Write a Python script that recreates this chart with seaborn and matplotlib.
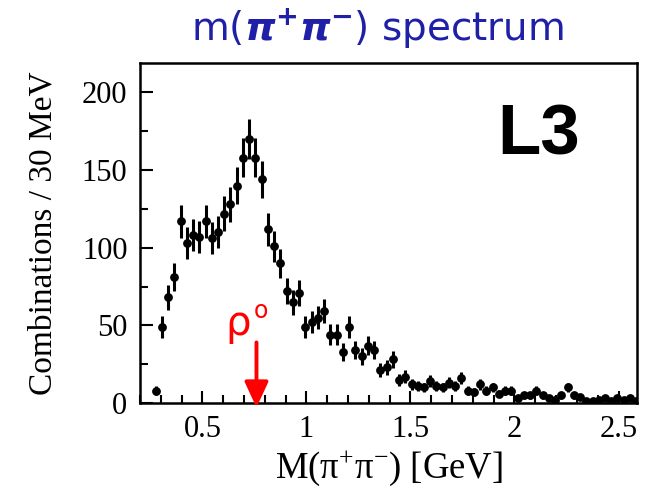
import numpy as np
import pandas as pd
import matplotlib
matplotlib.use("Agg")
import matplotlib.pyplot as plt
from matplotlib.ticker import MultipleLocator, FixedLocator
import seaborn as sns

# pi+ pi- invariant mass spectrum, 30 MeV bins starting at 0.26 GeV
bin_start = 0.26
bin_width = 0.03
counts = [8, 49, 68, 81, 117, 103, 108, 107, 117, 106,
          110, 122, 128, 140, 158, 170, 158, 144, 112, 101,
          90, 72, 65, 71, 49, 52, 55, 59, 44, 44,
          33, 49, 34, 30, 37, 34, 21, 23, 28, 15,
          17, 12, 11, 10, 14, 11, 10, 13, 11, 16,
          8, 7, 12, 8, 10, 6, 8, 8, 3, 5,
          5, 8, 5, 3, 2, 5, 10, 5, 4, 1,
          1, 2, 3, 1, 3, 2, 3, 1]
x_ticks = [0.5, 1.0, 1.5, 2.0, 2.5]
x_tick_labels = ["0.5", "1", "1.5", "2", "2.5"]
y_ticks = [0, 50, 100, 150, 200]
y_tick_labels = ["0", "50", "100", "150", "200"]
rho_mass = 0.76

counts = np.asarray(counts, dtype=float)
mass = bin_start + bin_width * (np.arange(len(counts)) + 0.5)
df = pd.DataFrame({"mass": mass, "counts": counts, "err": np.sqrt(counts)})

sns.set_theme(style="ticks")
plt.rcParams["font.family"] = ["Liberation Serif", "DejaVu Serif"]
plt.rcParams["text.color"] = "black"
plt.rcParams["axes.labelcolor"] = "black"
plt.rcParams["xtick.color"] = "black"
plt.rcParams["ytick.color"] = "black"
plt.rcParams["mathtext.fontset"] = "custom"
plt.rcParams["mathtext.rm"] = "Liberation Serif"
plt.rcParams["mathtext.it"] = "Liberation Serif:italic"
plt.rcParams["mathtext.bf"] = "DejaVu Sans:bold:italic"

fig = plt.figure(figsize=(6.45, 4.92), dpi=100)
ax = fig.add_axes([0.217, 0.181, 0.771, 0.691])

ax.errorbar(df["mass"], df["counts"], yerr=df["err"], fmt="none",
            ecolor="black", elinewidth=2.2, capsize=0, zorder=2)
sns.scatterplot(data=df, x="mass", y="counts", color="black", s=40,
                linewidth=0, ax=ax, zorder=3, legend=False)

ax.set_xlim(0.2, 2.59)
ax.set_ylim(0, 219)
ax.xaxis.set_major_locator(FixedLocator(x_ticks))
ax.set_xticklabels(x_tick_labels)
ax.xaxis.set_minor_locator(MultipleLocator(0.1))
ax.yaxis.set_major_locator(FixedLocator(y_ticks))
ax.set_yticklabels(y_tick_labels)
ax.yaxis.set_minor_locator(MultipleLocator(25))
ax.tick_params(which="both", direction="in", top=False, right=False,
               width=1.5, colors="black", labelcolor="black")
ax.tick_params(which="major", length=9, labelsize=22, pad=9)
ax.tick_params(which="minor", length=6)
for s in ax.spines.values():
    s.set_linewidth(1.8)
    s.set_color("black")

ax.set_xlabel(r"M($\mathrm{\pi}^{+}\mathrm{\pi}^{-}$) [GeV]", fontsize=26.5,
              labelpad=3, color="black")
ax.set_ylabel("Combinations / 30 MeV", fontsize=24, labelpad=17, color="black")

# experiment tag
ax.text(2.115, 160, "L3", fontsize=51, fontweight="bold",
        family="Liberation Sans", ha="center", va="baseline", color="black")

# rho0 marker
ax.annotate("", xy=(rho_mass, -3), xytext=(rho_mass, 39),
            arrowprops=dict(arrowstyle="-|>,head_width=0.6,head_length=1.3",
                            color="red", lw=2.8, shrinkA=0, shrinkB=0),
            annotation_clip=False)
ax.text(0.612, 44, "ρ", fontsize=29, color="red", family="DejaVu Sans",
        ha="left", va="baseline")
ax.text(0.745, 55, "o", fontsize=17, color="red", family="DejaVu Sans",
        ha="left", va="baseline")

fig.text(0.585, 0.917, r"m($\mathbf{\pi^{+}\pi^{-}}$) spectrum", fontsize=28,
         color="#1f1fa8", family="DejaVu Sans", ha="center", va="baseline")

fig.savefig("out.png", dpi=100, facecolor="white")
